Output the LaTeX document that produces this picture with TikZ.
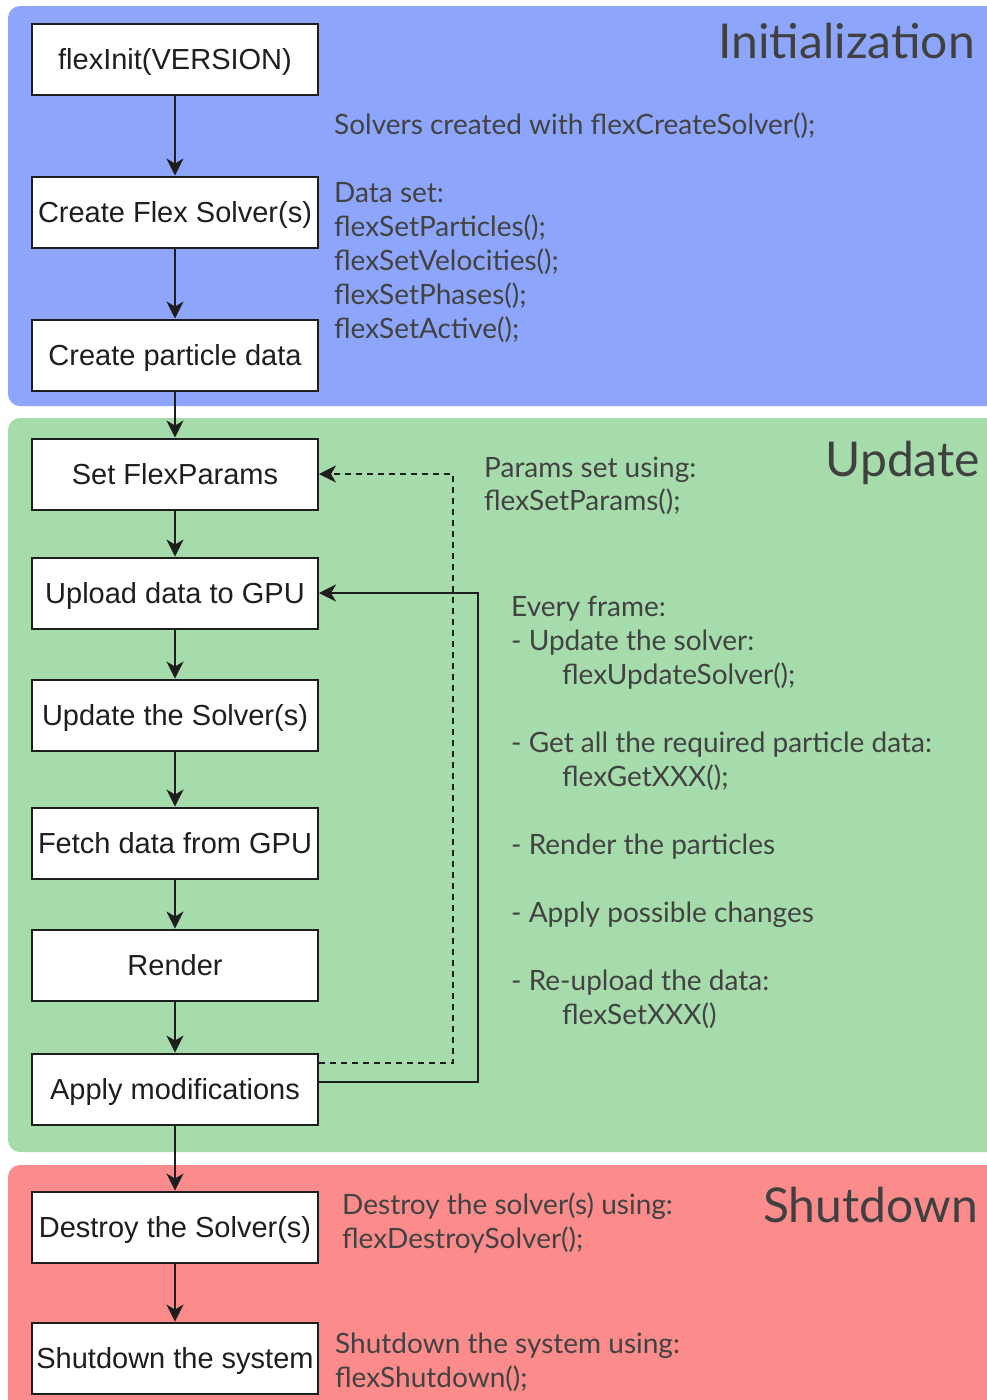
\documentclass[tikz,border=0pt]{standalone}
\usepackage{fontspec}
\setmainfont{Liberation Sans}
\newfontfamily\notefont{Lato}
\usetikzlibrary{arrows.meta}
\definecolor{initbg}{HTML}{8DA6FB}
\definecolor{updbg}{HTML}{A6DCAB}
\definecolor{shutbg}{HTML}{FC8B8B}
\definecolor{ink}{HTML}{1E1E1E}
\definecolor{notecol}{HTML}{424242}
\tikzset{
  flowbox/.style={draw=ink, line width=2pt, fill=white, minimum width=286pt, minimum height=71pt, inner sep=0pt, text height=26pt, text depth=6pt, font=\fontsize{29}{33}\selectfont, text=ink},
  flowarrow/.style={draw=ink, line width=1.5pt, -{Stealth[length=17pt,width=17pt,inset=5pt]}},
  note/.style={anchor=base west, inner sep=0pt, font=\notefont\fontsize{28}{32}\selectfont, text=notecol},
  title/.style={anchor=base east, inner sep=0pt, font=\notefont\fontsize{48}{56}\selectfont, text=ink!85},
  panel/.style={rounded corners=12pt}
}
\begin{document}
\begin{tikzpicture}[x=1pt,y=-1pt]
\useasboundingbox (0,0) rectangle (987,1400);
\fill[white] (0,0) rectangle (987,1400);
\begin{scope}
\clip (0,0) rectangle (987,1400);
\fill[initbg,panel] (8,6) rectangle (1010,406);
\fill[updbg,panel] (8,418) rectangle (1010,1152);
\fill[shutbg,panel] (8,1165) rectangle (1010,1420);
\end{scope}

% titles
\node[title] (tinit) at (975,58) {Initialization};
\node[title] (tupd) at (980,476) {Update};
\node[title] (tshut) at (978,1222) {Shutdown};

% boxes
\node[flowbox] (init) at (175,59) {flexInit(VERSION)};
\node[flowbox] (create) at (175,212) {Create Flex Solver(s)};
\node[flowbox] (particle) at (175,355) {Create particle data};
\node[flowbox] (setp) at (175,474) {Set FlexParams};
\node[flowbox] (upload) at (175,593) {Upload data to GPU};
\node[flowbox] (update) at (175,715) {Update the Solver(s)};
\node[flowbox] (fetch) at (175,843) {Fetch data from GPU};
\node[flowbox] (render) at (175,965) {Render};
\node[flowbox] (apply) at (175,1089) {Apply modifications};
\node[flowbox] (destroy) at (175,1227) {Destroy the Solver(s)};
\node[flowbox] (shutdown) at (175,1358) {Shutdown the system};

% arrows
\draw[flowarrow] (init) -- (create);
\draw[flowarrow] (create) -- (particle);
\draw[flowarrow] (particle) -- (setp);
\draw[flowarrow] (setp) -- (upload);
\draw[flowarrow] (upload) -- (update);
\draw[flowarrow] (update) -- (fetch);
\draw[flowarrow] (fetch) -- (render);
\draw[flowarrow] (render) -- (apply);
\draw[flowarrow] (apply) -- (destroy);
\draw[flowarrow] (destroy) -- (shutdown);

% feedback loops
\coordinate (dloop) at (453,1063);
\coordinate (sloop) at (478,1082);
\draw[flowarrow, dash pattern=on 6pt off 5pt] (apply.east |- dloop) -- (dloop) -- (dloop |- setp.east) -- (setp.east);
\draw[flowarrow] (apply.east |- sloop) -- (sloop) -- (sloop |- upload.east) -- (upload.east);

% notes: initialization
\node[note] (n1) at (334,134) {Solvers created with flexCreateSolver();};
\node[note] (n2) at (334,202) {Data set:};
\node[note] (n3) at (334,236) {flexSetParticles();};
\node[note] (n4) at (334,270) {flexSetVelocities();};
\node[note] (n5) at (334,304) {flexSetPhases();};
\node[note] (n6) at (334,338) {flexSetActive();};

% notes: update
\node[note] (u1) at (484,477) {Params set using:};
\node[note] (u2) at (484,510) {flexSetParams();};
\node[note] (u3) at (511,616) {Every frame:};
\node[note] (u4) at (511,650) {- Update the solver:};
\node[note] (u5) at (562,684) {flexUpdateSolver();};
\node[note] (u6) at (511,752) {- Get all the required particle data:};
\node[note] (u7) at (562,786) {flexGetXXX();};
\node[note] (u8) at (511,854) {- Render the particles};
\node[note] (u9) at (511,922) {- Apply possible changes};
\node[note] (u10) at (511,990) {- Re-upload the data:};
\node[note] (u11) at (562,1024) {flexSetXXX()};

% notes: shutdown
\node[note] (s1) at (342,1214) {Destroy the solver(s) using:};
\node[note] (s2) at (342,1248) {flexDestroySolver();};
\node[note] (s3) at (335,1353) {Shutdown the system using:};
\node[note] (s4) at (335,1387) {flexShutdown();};
\end{tikzpicture}
\end{document}
